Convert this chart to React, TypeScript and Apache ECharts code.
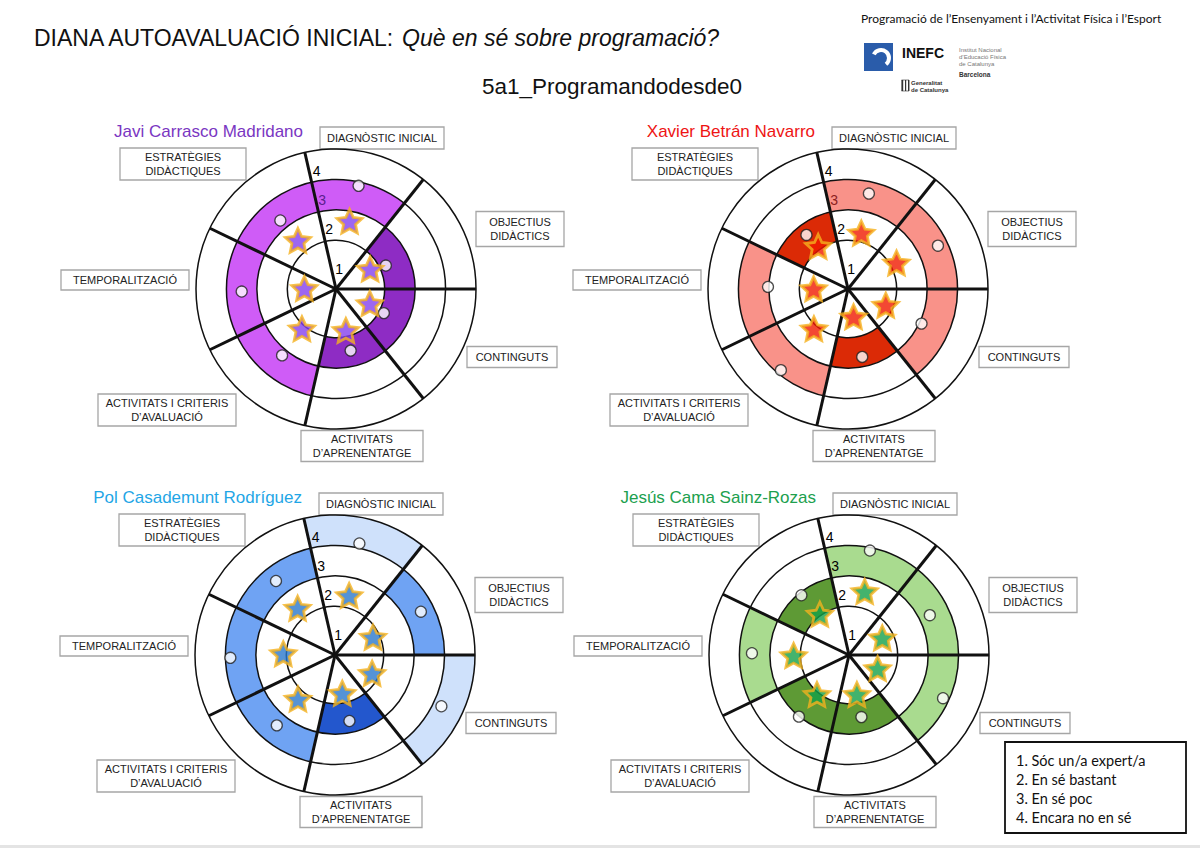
import React, { useEffect, useRef } from "react";
import * as echarts from "echarts";

// ---------- data ----------
// sector order (counter-clockwise from the right-hand horizontal spoke)
const SECTORS = [
  "OBJECTIUS\nDIDÀCTICS",
  "DIAGNÒSTIC INICIAL",
  "ESTRATÈGIES\nDIDÀCTIQUES",
  "TEMPORALITZACIÓ",
  "ACTIVITATS I CRITERIS\nD’AVALUACIÓ",
  "ACTIVITATS\nD’APRENENTATGE",
  "CONTINGUTS",
];
const RING_LEVELS = [1, 2, 3, 4];
const LEVEL_NAMES = ["1. Sóc un/a expert/a", "2. En sé bastant", "3. En sé poc", "4. Encara no en sé"];
const STUDENTS = ["Javi Carrasco Madridano", "Xavier Betrán Navarro", "Pol Casademunt Rodríguez", "Jesús Cama Sainz-Rozas"];

// coloured band level per sector
const javiLevels = [2, 3, 3, 3, 3, 2, 2];
const xavierLevels = [3, 3, 2, 3, 3, 2, 3];
const polLevels = [3, 4, 3, 3, 3, 2, 4];
const jesusLevels = [3, 3, 2, 3, 2, 2, 3];

// white dots [radius value, angle in sector units]
const javiDots = [[1.21, 0.49], [2.87, 1.51], [2.3, 2.51], [2.5, 3.53], [2.21, 4.49], [1.48, 5.51], [1.16, 6.48]];
const xavierDots = [[2.68, 0.5], [2.61, 1.51], [1.64, 2.48], [2.03, 3.47], [2.86, 4.48], [1.68, 5.48], [2.07, 6.51]];
const polDots = [[2.56, 0.52], [3.15, 1.51], [2.51, 2.5], [2.84, 3.53], [2.4, 4.48], [1.62, 5.49], [3.28, 6.5]];
const jesusDots = [[2.36, 0.51], [2.9, 1.53], [1.91, 2.5], [2.59, 3.48], [2.01, 4.49], [1.48, 5.47], [2.8, 6.52]];

// stars [radius value, angle in sector units]
const javiStars = [[0.7, 0.59], [1.67, 1.53], [1.43, 2.49], [0.44, 3.48], [1.12, 4.46], [0.8, 5.51], [0.61, 6.55]];
const xavierStars = [[1.21, 0.55], [1.29, 1.49], [1.11, 2.43], [0.53, 3.49], [1.12, 4.46], [0.33, 5.47], [0.75, 6.55]];
const polStars = [[0.78, 0.49], [1.41, 1.49], [1.37, 2.5], [1.1, 3.47], [1.29, 4.47], [0.68, 5.46], [0.76, 6.49]];
const jesusStars = [[0.63, 0.53], [1.55, 1.48], [1.05, 2.44], [1.22, 3.51], [1.07, 4.49], [0.72, 5.47], [0.44, 6.51]];

// ring number labels: positions [radius value, angle] and texts
const ringNumberPos = [[0.08, 1.58], [1.37, 1.88], [2.37, 1.92], [3.34, 1.93]];
const ringNumberText = ["1", "2", "3", "4"];

// ---------- styling ----------
const FONT = '"Liberation Sans", Arial, sans-serif';
const CENTERS = [[336, 289], [848, 289], [335, 655], [849, 655]];
const RADIUS = 140;
const charts = [
  { name: STUDENTS[0], levels: javiLevels, dots: javiDots, stars: javiStars, nameColor: "#7A36C2", starFill: "#8440EE", three: "#5B1E8E", pal: ["", "", "#8E2CC4", "#CF5CF7", "#CF5CF7"] },
  { name: STUDENTS[1], levels: xavierLevels, dots: xavierDots, stars: xavierStars, nameColor: "#EE1414", starFill: "#F01A00", three: "#8B1E1E", pal: ["", "", "#DB2A06", "#F99289", "#F99289"] },
  { name: STUDENTS[2], levels: polLevels, dots: polDots, stars: polStars, nameColor: "#1FA6E6", starFill: "#2A78CC", three: "#000", pal: ["", "", "#2357CD", "#6FA3F3", "#CFE1FB"] },
  { name: STUDENTS[3], levels: jesusLevels, dots: jesusDots, stars: jesusStars, nameColor: "#20A04E", starFill: "#14A048", three: "#000", pal: ["", "", "#5E9A35", "#A9DB8F", "#A9DB8F"] },
];
// label boxes relative to chart centre: [dx, dy, w, h]
const LABEL_BOX = [
  [184, -60, 88, 35],
  [46, -151, 124, 22],
  [-153, -125, 126, 32],
  [-211, -9, 128, 20],
  [-169, 121, 138, 32],
  [26, 157, 122, 31],
  [176, 68, 90, 21],
];

const starPath = (() => {
  let d = "";
  for (let k = 0; k < 10; k++) {
    const ang = ((-90 + k * 36) * Math.PI) / 180;
    const rr = k % 2 === 0 ? 50 : 24;
    d += (k === 0 ? "M" : "L") + (50 + rr * Math.cos(ang)).toFixed(2) + " " + (50 + rr * Math.sin(ang)).toFixed(2) + " ";
  }
  return "path://" + d + "Z";
})();

function bandRender(pal: string[]) {
  return (params: any, api: any) => {
    const cx = params.coordSys.cx, cy = params.coordSys.cy;
    const lvl = api.value(0), s = api.value(1);
    const pOut = api.coord([lvl, s]);
    const pIn = api.coord([lvl - 1, s]);
    const pEnd = api.coord([lvl, s + 1]);
    const r = Math.hypot(pOut[0] - cx, pOut[1] - cy);
    const r0 = Math.hypot(pIn[0] - cx, pIn[1] - cy);
    const a1 = Math.atan2(pOut[1] - cy, pOut[0] - cx);
    const a2 = Math.atan2(pEnd[1] - cy, pEnd[0] - cx);
    let d = a1 - a2;
    while (d <= 0) d += 2 * Math.PI;
    return {
      type: "sector",
      shape: { cx, cy, r0, r, startAngle: a2, endAngle: a2 + d, clockwise: true },
      style: { fill: pal[lvl] },
    };
  };
}
function ringRender(params: any, api: any) {
  const cx = params.coordSys.cx, cy = params.coordSys.cy;
  const p = api.coord([api.value(0), 0]);
  return {
    type: "circle",
    shape: { cx, cy, r: Math.hypot(p[0] - cx, p[1] - cy) },
    style: { fill: "none", stroke: "#111", lineWidth: 1.5 },
  };
}
function spokeRender(params: any, api: any) {
  const cx = params.coordSys.cx, cy = params.coordSys.cy;
  const p = api.coord([api.value(0), api.value(1)]);
  return {
    type: "line",
    shape: { x1: cx, y1: cy, x2: p[0], y2: p[1] },
    style: { stroke: "#111", lineWidth: 3, lineCap: "butt" },
  };
}
function numberRender(threeColor: string) {
  return (params: any, api: any) => {
    const p = api.coord([api.value(0), api.value(1)]);
    const t = ringNumberText[params.dataIndex];
    return {
      type: "text",
      x: p[0],
      y: p[1],
      style: { text: t, align: "center", verticalAlign: "middle", fontSize: 14, fontFamily: FONT, fill: t === "3" ? threeColor : "#000" },
    };
  };
}

function buildOption() {
  const series: any[] = [];
  const graphic: any[] = [];
  charts.forEach((c, i) => {
    const base = { coordinateSystem: "polar", polarIndex: i, silent: true, animation: false };
    series.push({ ...base, type: "custom", data: c.levels.map((l, s) => [l, s]), renderItem: bandRender(c.pal), z: 1 });
    series.push({ ...base, type: "custom", data: RING_LEVELS.map((v) => [v, 0]), renderItem: ringRender, z: 2 });
    series.push({ ...base, type: "custom", data: SECTORS.map((_, s) => [4, s]), renderItem: spokeRender, z: 3 });
    series.push({ ...base, type: "scatter", data: c.dots, symbol: "circle", symbolSize: 11, itemStyle: { color: "#fff", borderColor: "#222", borderWidth: 1.3 }, z: 4 });
    series.push({ ...base, type: "scatter", data: c.stars, symbol: starPath, symbolKeepAspect: true, symbolSize: 25, itemStyle: { color: c.starFill, borderColor: "#F5B21E", borderWidth: 2.8 }, z: 5 });
    series.push({ ...base, type: "custom", data: ringNumberPos, renderItem: numberRender(c.three), z: 6 });

    const [cx, cy] = CENTERS[i];
    SECTORS.forEach((txt, s) => {
      const [dx, dy, w, h] = LABEL_BOX[s];
      graphic.push({
        type: "group",
        children: [
          { type: "rect", shape: { x: cx + dx - w / 2, y: cy + dy - h / 2, width: w, height: h }, style: { fill: "#fff", stroke: "#A6A6A6", lineWidth: 1.3 } },
          { type: "text", x: cx + dx, y: cy + dy, style: { text: txt, align: "center", verticalAlign: "middle", fontSize: 11, lineHeight: 14, fontFamily: FONT, fill: "#222" } },
        ],
      });
    });
    graphic.push({ type: "text", x: cx - 33, y: cy - 158, style: { text: c.name, align: "right", verticalAlign: "middle", fontSize: 17, fontFamily: FONT, fill: c.nameColor } });
  });

  // header
  graphic.push({
    type: "text",
    x: 34,
    y: 38,
    style: {
      text: "{a|DIANA AUTOAVALUACIÓ INICIAL: }{b|Què en sé sobre programació?}",
      verticalAlign: "middle",
      rich: {
        a: { fontSize: 23, fontFamily: FONT, fill: "#111" },
        b: { fontSize: 23, fontFamily: FONT, fontStyle: "italic", fill: "#111" },
      },
    },
  });
  graphic.push({ type: "text", x: 612, y: 86, style: { text: "5a1_Programandodesde0", align: "center", verticalAlign: "middle", fontSize: 22.5, fontFamily: FONT, fill: "#111" } });
  graphic.push({ type: "text", x: 861, y: 18, style: { text: "Programació de l’Ensenyament i l’Activitat Física i l’Esport", verticalAlign: "middle", fontSize: 12, fontFamily: "Lato, sans-serif", fill: "#111" } });

  // logo
  graphic.push({ type: "rect", shape: { x: 864, y: 43, width: 29, height: 28 }, style: { fill: "#2A5CAA" } });
  graphic.push({ type: "arc", shape: { cx: 881, cy: 58, r: 8, startAngle: 3.6, endAngle: 0.9, clockwise: true }, style: { stroke: "#fff", lineWidth: 4, fill: "none" } });
  graphic.push({ type: "text", x: 902, y: 53, style: { text: "INEFC", verticalAlign: "middle", fontSize: 14, fontWeight: "bold", fontFamily: FONT, fill: "#111" } });
  graphic.push({ type: "text", x: 959, y: 57, style: { text: "Institut Nacional\nd’Educació Física\nde Catalunya", verticalAlign: "middle", fontSize: 6, lineHeight: 7, fontFamily: FONT, fill: "#777" } });
  graphic.push({ type: "text", x: 959, y: 74, style: { text: "Barcelona", verticalAlign: "middle", fontSize: 6.5, fontWeight: "bold", fontFamily: FONT, fill: "#333" } });
  [0, 2, 4].forEach((k) => graphic.push({ type: "rect", shape: { x: 902 + k * 1.5, y: 80, width: 1.2, height: 11 }, style: { fill: "#333" } }));
  graphic.push({ type: "rect", shape: { x: 901.5, y: 80, width: 7.5, height: 11 }, style: { fill: "none", stroke: "#333", lineWidth: 0.6 } });
  graphic.push({ type: "text", x: 911, y: 86, style: { text: "Generalitat\nde Catalunya", verticalAlign: "middle", fontSize: 6, lineHeight: 7, fontWeight: "bold", fontFamily: FONT, fill: "#333" } });

  // legend box
  graphic.push({ type: "rect", shape: { x: 1005, y: 742, width: 181, height: 91 }, style: { fill: "#fff", stroke: "#111", lineWidth: 1.8 } });
  LEVEL_NAMES.forEach((t, k) => {
    graphic.push({ type: "text", x: 1016, y: 760 + k * 19, style: { text: t, verticalAlign: "middle", fontSize: 14.5, fontFamily: "Lato, sans-serif", fill: "#111" } });
  });
  graphic.push({ type: "rect", shape: { x: 0, y: 845, width: 1200, height: 3 }, style: { fill: "#E4E4E4" } });

  return {
    animation: false,
    backgroundColor: "#fff",
    polar: CENTERS.map((c) => ({ center: c, radius: RADIUS })),
    angleAxis: CENTERS.map((_, i) => ({ polarIndex: i, type: "value", min: 0, max: 7, startAngle: 0, clockwise: false, show: false })),
    radiusAxis: CENTERS.map((_, i) => ({ polarIndex: i, type: "value", min: -0.6, max: 4, show: false })),
    series,
    graphic,
  };
}

export default function App() {
  const ref = useRef<HTMLDivElement>(null);
  useEffect(() => {
    if (!ref.current) return;
    const chart = echarts.init(ref.current, null, { renderer: "svg", width: 1200, height: 848 });
    chart.setOption(buildOption() as any);
    return () => chart.dispose();
  }, []);
  return <div ref={ref} style={{ position: "fixed", left: 0, top: 0, width: 1200, height: 848, background: "#fff" }} />;
}
